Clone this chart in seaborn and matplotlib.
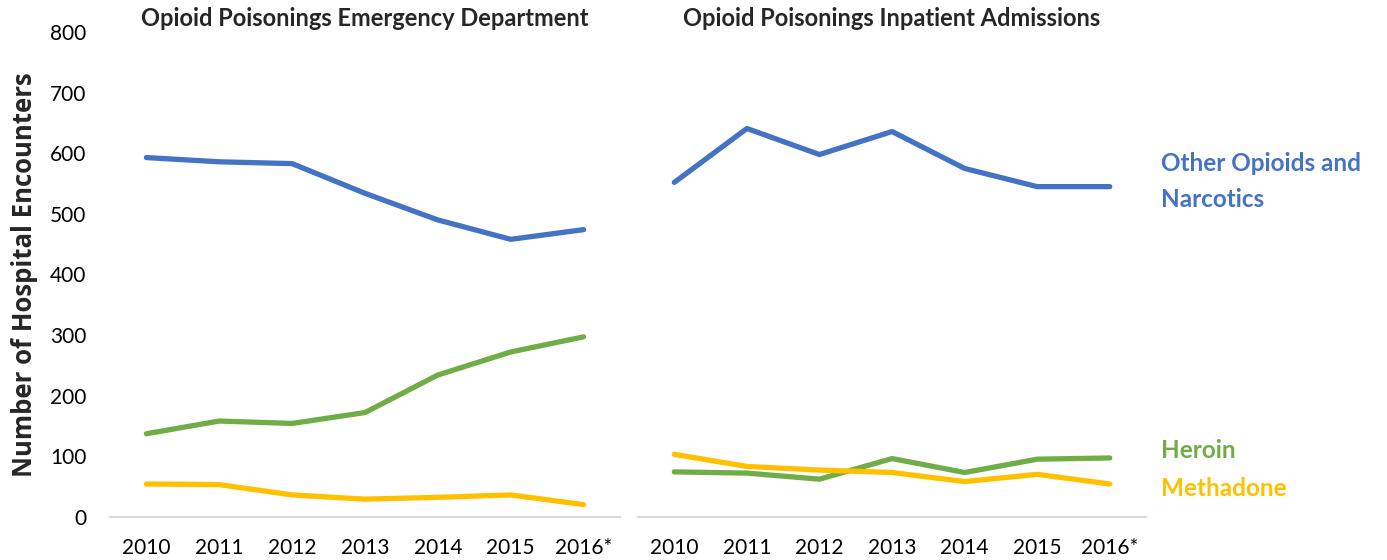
import numpy as np
import pandas as pd
import matplotlib
matplotlib.use("Agg")
import matplotlib.pyplot as plt
import seaborn as sns

# --- Data ---
YEARS = ["2010", "2011", "2012", "2013", "2014", "2015", "2016*"]
SERIES = ["Other Opioids and\nNarcotics", "Heroin", "Methadone"]

ED_OTHER = [593, 586, 583, 534, 490, 458, 474]
ED_HEROIN = [137, 158, 154, 172, 234, 272, 297]
ED_METHADONE = [54, 53, 36, 29, 32, 36, 20]

IP_OTHER = [552, 641, 598, 636, 575, 545, 545]
IP_HEROIN = [74, 72, 62, 96, 73, 95, 97]
IP_METHADONE = [103, 83, 77, 73, 58, 70, 54]

TITLES = ["Opioid Poisonings Emergency Department", "Opioid Poisonings Inpatient Admissions"]
Y_LABEL = "Number of Hospital Encounters"
Y_TICKS = [0, 100, 200, 300, 400, 500, 600, 700, 800]

COLORS = {SERIES[0]: "#4472C4", SERIES[1]: "#70AD47", SERIES[2]: "#FFC000"}
FONT = ["Lato", "DejaVu Sans"]


def to_long(other, heroin, methadone):
    frames = []
    for name, vals in zip(SERIES, [other, heroin, methadone]):
        frames.append(pd.DataFrame({"year": YEARS, "count": vals, "series": name}))
    return pd.concat(frames, ignore_index=True)


ed_df = to_long(ED_OTHER, ED_HEROIN, ED_METHADONE)
ip_df = to_long(IP_OTHER, IP_HEROIN, IP_METHADONE)

sns.set_style("white")
plt.rcParams["font.family"] = FONT

fig = plt.figure(figsize=(13.87, 5.6), dpi=100)
ax_l = fig.add_axes([0.0793, 0.0773, 0.3677, 0.8652])
ax_r = fig.add_axes([0.46, 0.0773, 0.3663, 0.8652])

for ax, df, title in [(ax_l, ed_df, TITLES[0]), (ax_r, ip_df, TITLES[1])]:
    sns.lineplot(data=df, x="year", y="count", hue="series", palette=COLORS,
                 linewidth=3.8, sort=False, legend=False, ax=ax,
                 solid_capstyle="round")
    ax.set_xlim(-0.5, len(YEARS) - 0.5)
    ax.set_ylim(0, 800)
    ax.set_yticks(Y_TICKS)
    ax.set_xlabel("")
    ax.set_ylabel("")
    for side in ["top", "right", "left"]:
        ax.spines[side].set_visible(False)
    ax.spines["bottom"].set_color("#d9d9d9")
    ax.spines["bottom"].set_linewidth(1.5)
    ax.tick_params(axis="both", length=0, labelsize=15, colors="black")
    ax.tick_params(axis="x", pad=15)
    ax.tick_params(axis="y", pad=17)
    ax.text(0.5, 1.0 + 14 / 484, title, transform=ax.transAxes, ha="center",
            va="center", fontsize=17, fontweight="bold")

ax_r.set_yticklabels([])
ax_l.set_ylabel(Y_LABEL, fontsize=18.5, fontweight="bold", labelpad=9,
                family=["Open Sans", "DejaVu Sans"])

# direct labels at the right of the inpatient panel
label_pos = {SERIES[0]: 554, SERIES[1]: 110, SERIES[2]: 46}
for name in SERIES:
    ax_r.text(len(YEARS) - 0.5 + 0.2, label_pos[name], name, color=COLORS[name],
              fontsize=17.5, fontweight="bold", ha="left", va="center",
              linespacing=1.7, clip_on=False)

fig.savefig("out.png", dpi=100)
